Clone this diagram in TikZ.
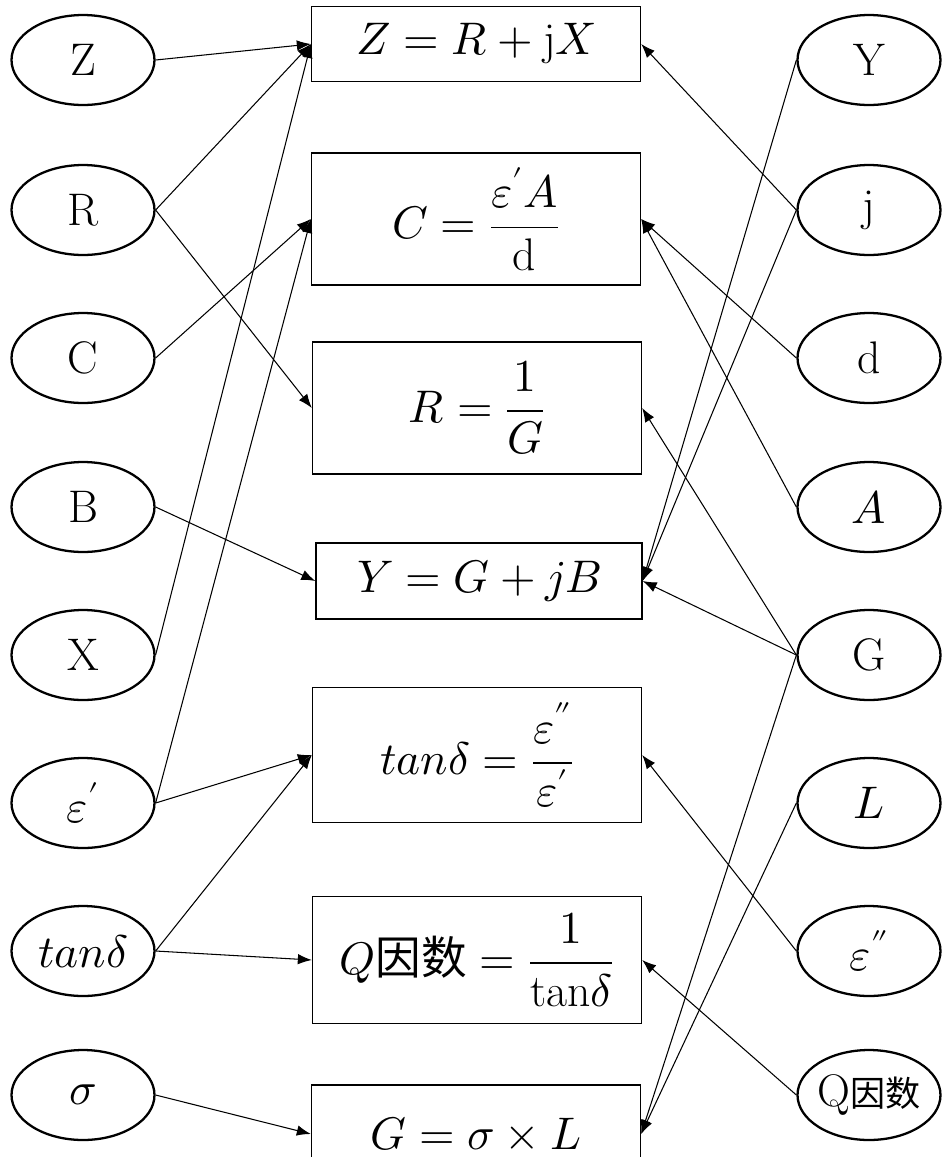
\documentclass[tikz,border=0pt]{standalone}
\usepackage{amsmath}
\usepackage{unicode-math}
\setmathfont{Latin Modern Math}
\newfontfamily\cjk{Noto Sans CJK SC}
\usetikzlibrary{shapes.geometric,arrows.meta}
\tikzset{
    param/.style={ellipse, draw, line width=1.3pt, minimum width=2.86cm, minimum height=1.8cm, inner sep=0pt, font=\fontsize{26}{30}\selectfont},
    formula/.style={rectangle, draw, line width=0.8pt, minimum width=6.58cm, inner sep=0pt, font=\fontsize{26}{30}\selectfont},
    link/.style={line width=0.6pt, -{Latex[length=2.8mm,width=2.1mm]}},
}

\begin{document}
\begin{tikzpicture}[x=0.02cm, y=-0.02cm]
    \path[use as bounding box, fill=white] (0,0) rectangle (941,1157);
    \node[param] (Z) at (83,60) {Z};
    \node[param] (R) at (83,210) {R};
    \node[param] (C) at (83,358) {C};
    \node[param] (B) at (83,507) {B};
    \node[param] (X) at (83,655) {X};
    \node[param] (epsA) at (83,803) {$\varepsilon'$};
    \node[param] (tand) at (83,951) {$tan\delta$};
    \node[param] (sigma) at (83,1095) {$\sigma$};
    \node[param] (Y) at (869,60) {Y};
    \node[param] (j) at (869,210) {j};
    \node[param] (d) at (869,358) {d};
    \node[param] (A) at (869,507) {$A$};
    \node[param] (G) at (869,655) {G};
    \node[param] (L) at (869,803) {$L$};
    \node[param] (epsB) at (869,951) {$\varepsilon''$};
    \node[param] (Q) at (869,1095) {\makebox[0pt]{Q{\cjk\fontsize{20}{24}\selectfont 因数}}};
    \node[formula, minimum height=1.5cm] (eqZ) at (476,44) {$Z = R + \mathrm{j}X$};
    \node[formula, minimum height=2.64cm] (eqC) at (476,219) {$C = \dfrac{\varepsilon' A}{\mathrm{d}}$};
    \node[formula, minimum height=2.64cm] (eqR) at (477,408) {$R = \dfrac{1}{G}$};
    \node[formula, minimum height=1.52cm, minimum width=6.52cm] (eqY) at (479,581) {$Y = G + jB$};
    \node[formula, minimum height=2.7cm] (eqTan) at (477,755) {$tan\delta = \dfrac{\varepsilon''}{\varepsilon'}$};
    \node[formula, minimum height=2.54cm] (eqQ) at (477,960) {$Q\text{\cjk 因数} = \dfrac{1}{\mathrm{tan}\delta}$};
    \node[formula, minimum height=1.96cm] (eqG) at (476,1134) {$G = \sigma \times L$};
    \draw[link] (Z.east) -- (eqZ.west);
    \draw[link] (R.east) -- (eqZ.west);
    \draw[link] (X.east) -- (eqZ.west);
    \draw[link] (R.east) -- (eqR.west);
    \draw[link] (C.east) -- (eqC.west);
    \draw[link] (epsA.east) -- (eqC.west);
    \draw[link] (B.east) -- (eqY.west);
    \draw[link] (epsA.east) -- (eqTan.west);
    \draw[link] (tand.east) -- (eqTan.west);
    \draw[link] (tand.east) -- (eqQ.west);
    \draw[link] (sigma.east) -- (eqG.west);
    \draw[link] (j.west) -- (eqZ.east);
    \draw[link] (Y.west) -- (eqY.east);
    \draw[link] (j.west) -- (eqY.east);
    \draw[link] (d.west) -- (eqC.east);
    \draw[link] (A.west) -- (eqC.east);
    \draw[link] (G.west) -- (eqR.east);
    \draw[link] (G.west) -- (eqY.east);
    \draw[link] (G.west) -- (eqG.east);
    \draw[link] (L.west) -- (eqG.east);
    \draw[link] (epsB.west) -- (eqTan.east);
    \draw[link] (Q.west) -- (eqQ.east);
\end{tikzpicture}
\end{document}
